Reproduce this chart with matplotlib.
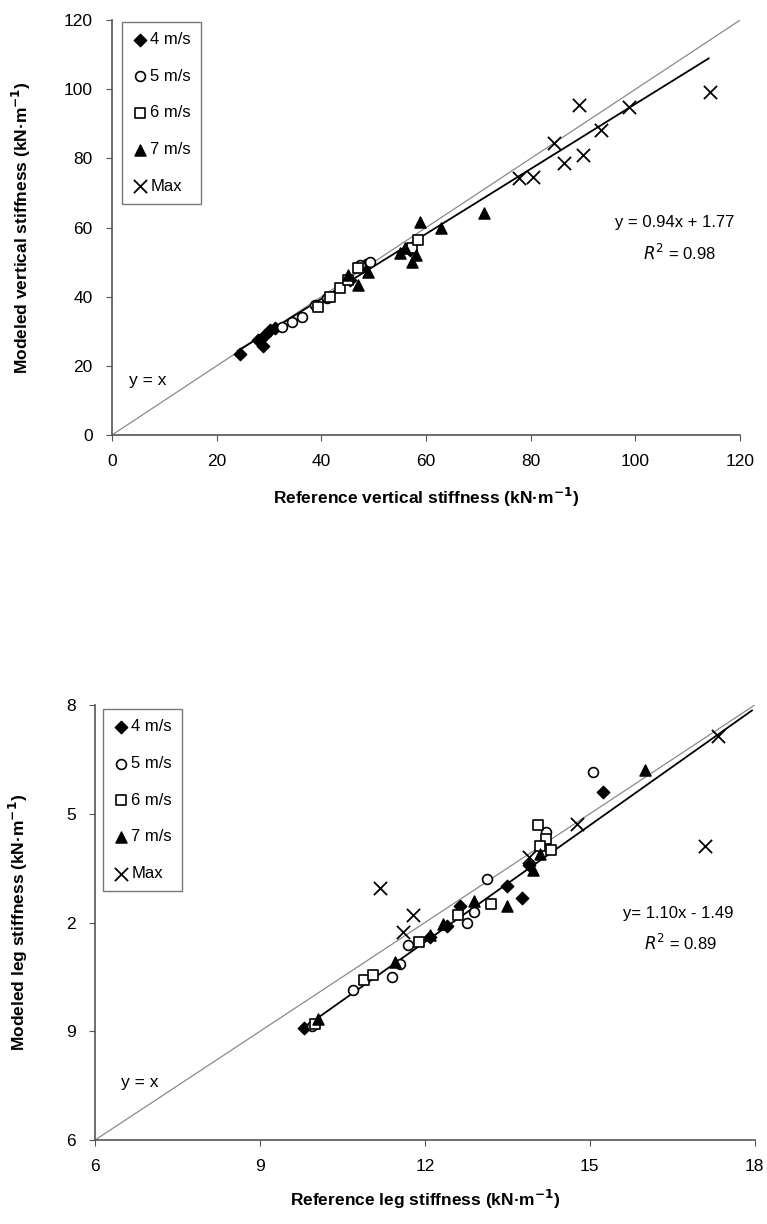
import matplotlib.pyplot as plt
import numpy as np

plt.rcParams['font.family'] = ['Liberation Sans', 'DejaVu Sans']
plt.rcParams.update({'font.size': 12})

# --- vertical stiffness (top panel) ---
v_4_x = [24.4, 27.8, 28.8, 29.2, 30.1, 31.1, 45.5, 48.4, 57.0]
v_4_y = [23.5, 27.5, 25.6, 28.9, 30.3, 30.9, 44.8, 49.1, 53.5]
v_5_x = [32.4, 34.4, 36.3, 38.8, 41.1, 47.4, 49.3]
v_5_y = [31.2, 32.7, 34.1, 37.6, 39.6, 49.1, 50.0]
v_6_x = [39.3, 41.6, 43.6, 45.1, 47.0, 57.4, 58.5]
v_6_y = [37.0, 39.9, 42.5, 44.8, 48.3, 54.0, 56.4]
v_7_x = [45.0, 47.0, 48.9, 55.1, 56.0, 57.4, 58.0, 58.9, 62.8, 71.0]
v_7_y = [46.2, 43.4, 47.1, 52.6, 54.0, 50.0, 52.0, 61.6, 59.8, 64.2]
v_max_x = [77.7, 80.4, 84.5, 86.4, 90.0, 89.3, 93.5, 98.8, 114.2]
v_max_y = [74.3, 74.6, 84.4, 78.6, 81.0, 95.4, 88.2, 94.8, 99.1]
v_fit_slope, v_fit_icpt = 0.94, 1.77
v_fit_range = [24.0, 114.0]
v_ticks = [0, 20, 40, 60, 80, 100, 120]

# --- leg stiffness (bottom panel) ---
l_4_x = [9.8, 12.1, 12.4, 12.64, 13.5, 13.76, 13.9, 15.24]
l_4_y = [9.1, 11.6, 11.9, 12.46, 13.0, 12.68, 13.6, 15.6]
l_5_x = [9.95, 10.7, 11.4, 11.55, 11.7, 12.76, 12.9, 13.13, 14.2, 15.05]
l_5_y = [9.15, 10.15, 10.5, 10.85, 11.37, 12.0, 12.3, 13.2, 14.5, 16.15]
l_6_x = [10.0, 10.9, 11.05, 11.9, 12.6, 13.2, 14.05, 14.2, 14.3, 14.1]
l_6_y = [9.2, 10.42, 10.55, 11.45, 12.2, 12.5, 14.7, 14.3, 14.0, 14.1]
l_7_x = [10.05, 11.45, 12.1, 12.33, 12.9, 13.5, 13.96, 14.1, 16.0]
l_7_y = [9.35, 10.9, 11.65, 11.95, 12.6, 12.46, 13.45, 13.9, 16.2]
l_max_x = [11.18, 11.6, 11.78, 13.9, 14.76, 17.09, 17.33]
l_max_y = [12.95, 11.73, 12.2, 13.8, 14.73, 14.1, 17.15]
l_fit_x = [9.8, 17.95]
l_fit_y = [9.1, 17.85]
l_ref_x = [6, 18]
l_ref_y = [6, 18]
l_ticks = [6, 9, 12, 15, 18]
l_xticklabels = ['6', '9', '12', '15', '18']
l_yticklabels = ['6', '9', '2', '5', '8']

labels = ['4 m/s', '5 m/s', '6 m/s', '7 m/s', 'Max']

fig = plt.figure(figsize=(7.67, 12.24), dpi=100)


def draw_points(ax, groups):
    styles = [
        dict(marker='D', s=40, facecolor='black', edgecolor='black'),
        dict(marker='o', s=50, facecolor='white', edgecolor='black', linewidths=1.2),
        dict(marker='s', s=50, facecolor='white', edgecolor='black', linewidths=1.2),
        dict(marker='^', s=64, facecolor='black', edgecolor='black'),
        dict(marker='x', s=90, color='black', linewidths=1.3),
    ]
    for (gx, gy), st, lab in zip(groups, styles, labels):
        ax.scatter(gx, gy, label=lab, zorder=3, **st)


def style_axes(ax):
    for side in ['top', 'right']:
        ax.spines[side].set_visible(False)
    for side in ['left', 'bottom']:
        ax.spines[side].set_color('#555555')
        ax.spines[side].set_linewidth(1.2)
    ax.tick_params(direction='out', length=4, color='#555555',
                   labelsize=12.5, pad=10)


def add_legend(ax, anchor):
    leg = ax.legend(loc='upper left', bbox_to_anchor=anchor, fontsize=12,
                    frameon=True, fancybox=False, edgecolor='#555555',
                    labelspacing=1.3, handletextpad=0.1, handlelength=1.0,
                    borderpad=0.6, borderaxespad=0)
    leg.get_frame().set_linewidth(1.0)


# top panel
ax1 = fig.add_axes([0.146, 0.6446, 0.819, 0.339])
ax1.plot([0, 120], [0, 120], color='#8a8a8a', lw=0.9, zorder=1)
fx = np.array(v_fit_range)
ax1.plot(fx, v_fit_slope * fx + v_fit_icpt, color='black', lw=1.3, zorder=2)
draw_points(ax1, [(v_4_x, v_4_y), (v_5_x, v_5_y), (v_6_x, v_6_y),
                  (v_7_x, v_7_y), (v_max_x, v_max_y)])
ax1.set_xlim(0, 120)
ax1.set_ylim(0, 120)
ax1.set_xticks(v_ticks)
ax1.set_yticks(v_ticks)
style_axes(ax1)
ax1.set_xlabel('Reference vertical stiffness (kN·m$^{\\mathbf{-1}}$)',
               fontweight='bold', fontsize=12.5, labelpad=12)
ax1.set_ylabel('Modeled vertical stiffness (kN·m$^{\\mathbf{-1}}$)',
               fontweight='bold', fontsize=12.5, labelpad=22)
ax1.text(107.5, 61.5, 'y = 0.94x + 1.77', ha='center', va='center', fontsize=12)
ax1.text(108.5, 52.6, '$R^2$ = 0.98', ha='center', va='center', fontsize=12)
ax1.text(6.9, 15.9, 'y = x', ha='center', va='center', fontsize=12.5)
add_legend(ax1, (0.016, 0.995))

# bottom panel
ax2 = fig.add_axes([0.124, 0.0686, 0.86, 0.3554])
ax2.plot(l_ref_x, l_ref_y, color='#8a8a8a', lw=0.9, zorder=1)
ax2.plot(l_fit_x, l_fit_y, color='black', lw=1.3, zorder=2)
draw_points(ax2, [(l_4_x, l_4_y), (l_5_x, l_5_y), (l_6_x, l_6_y),
                  (l_7_x, l_7_y), (l_max_x, l_max_y)])
ax2.set_xlim(6, 18)
ax2.set_ylim(6, 18)
ax2.set_xticks(l_ticks)
ax2.set_xticklabels(l_xticklabels)
ax2.set_yticks(l_ticks)
ax2.set_yticklabels(l_yticklabels)
style_axes(ax2)
ax2.set_xlabel('Reference leg stiffness (kN·m$^{\\mathbf{-1}}$)',
               fontweight='bold', fontsize=12.5, labelpad=10)
ax2.set_ylabel('Modeled leg stiffness (kN·m$^{\\mathbf{-1}}$)',
               fontweight='bold', fontsize=12.5, labelpad=26)
ax2.text(16.6, 12.26, 'y= 1.10x - 1.49', ha='center', va='center', fontsize=12)
ax2.text(16.65, 11.43, '$R^2$ = 0.89', ha='center', va='center', fontsize=12)
ax2.text(6.82, 7.6, 'y = x', ha='center', va='center', fontsize=12.5)
add_legend(ax2, (0.012, 0.99))

fig.savefig('out.png', dpi=100)
